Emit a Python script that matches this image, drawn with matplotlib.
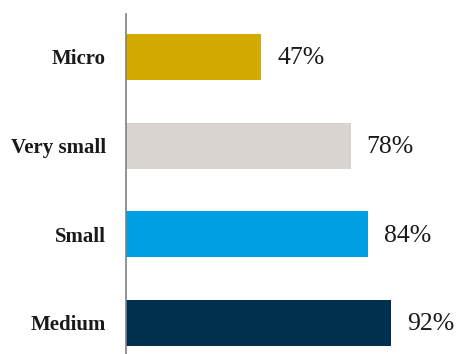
import matplotlib
matplotlib.use("Agg")
import matplotlib.pyplot as plt

categories = ["Micro", "Very small", "Small", "Medium"]
values = [47, 78, 84, 92]
colors = ["#D4AA00", "#D9D4D0", "#009FE3", "#00304F"]

plt.rcParams['font.family'] = ['Liberation Serif', 'DejaVu Serif']

fig = plt.figure(figsize=(4.57, 3.54), dpi=100)
ax = fig.add_axes([126/457, 0, 288/457, 340/354])

ypos = list(range(len(categories)))
ax.barh(ypos, values, height=0.52, color=colors)
for y, v in zip(ypos, values):
    ax.annotate(f"{v}%", xy=(v, y), xytext=(11.5, -1), textcoords="offset points",
                va="center", ha="left", fontsize=18.5, color="#1a1a1a")

ax.set_xlim(0, 100)
ax.set_ylim(3.35, -0.485)
ax.set_yticks(ypos)
ax.set_yticklabels(categories, fontsize=15, fontweight="bold", color="#1a1a1a")
ax.tick_params(axis="y", length=0, pad=14.5)
ax.set_xticks([])
for s in ["top", "right", "bottom"]:
    ax.spines[s].set_visible(False)
ax.spines["left"].set_color("#808080")
ax.spines["left"].set_linewidth(1.2)

fig.savefig("out.png", dpi=100)
